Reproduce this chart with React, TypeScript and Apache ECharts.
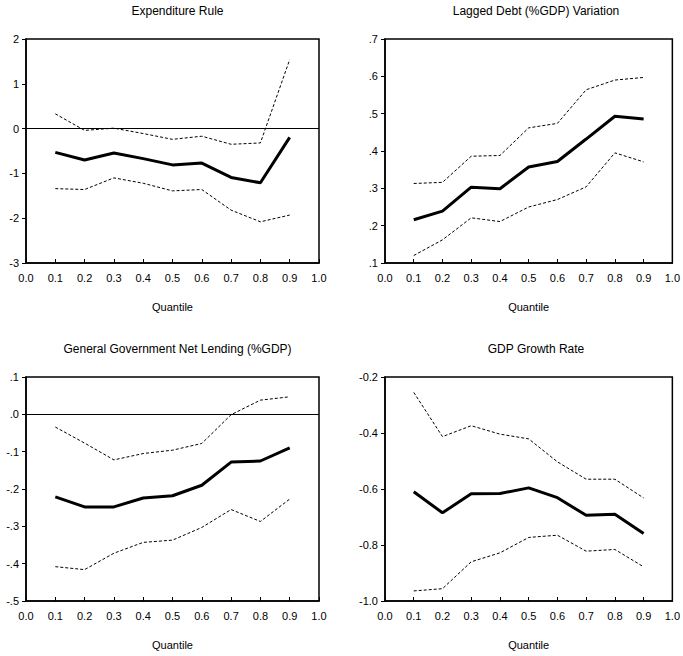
import React, { useEffect, useRef } from "react";
import * as echarts from "echarts";

const quantiles = [0.1, 0.2, 0.3, 0.4, 0.5, 0.6, 0.7, 0.8, 0.9];

const titles = [
  "Expenditure Rule",
  "Lagged Debt (%GDP) Variation",
  "General Government Net Lending (%GDP)",
  "GDP Growth Rate",
];

// Expenditure Rule
const expEst = [-0.53, -0.7, -0.545, -0.67, -0.81, -0.77, -1.09, -1.21, -0.195];
const expUp = [0.33, -0.04, 0.01, -0.11, -0.24, -0.17, -0.35, -0.32, 1.54];
const expLo = [-1.34, -1.36, -1.1, -1.22, -1.39, -1.36, -1.82, -2.08, -1.93];

// Lagged Debt (%GDP) Variation
const debtEst = [0.216, 0.239, 0.303, 0.299, 0.357, 0.372, 0.432, 0.493, 0.486];
const debtUp = [0.313, 0.316, 0.386, 0.388, 0.462, 0.474, 0.564, 0.59, 0.597];
const debtLo = [0.12, 0.162, 0.221, 0.211, 0.25, 0.27, 0.304, 0.395, 0.371];

// General Government Net Lending (%GDP)
const lendEst = [-0.221, -0.248, -0.248, -0.224, -0.218, -0.19, -0.128, -0.125, -0.09];
const lendUp = [-0.034, -0.077, -0.122, -0.105, -0.096, -0.078, -0.001, 0.038, 0.047];
const lendLo = [-0.408, -0.416, -0.372, -0.343, -0.337, -0.303, -0.255, -0.287, -0.227];

// GDP Growth Rate
const gdpEst = [-0.61, -0.685, -0.617, -0.616, -0.596, -0.631, -0.694, -0.69, -0.759];
const gdpUp = [-0.255, -0.413, -0.374, -0.404, -0.421, -0.503, -0.565, -0.565, -0.632];
const gdpLo = [-0.964, -0.956, -0.86, -0.828, -0.773, -0.765, -0.822, -0.816, -0.878];

const yMins = [-3, 0.1, -0.5, -1.0];
const yMaxs = [2, 0.7, 0.1, -0.2];
const yIntervals = [1, 0.1, 0.1, 0.2];
const zeroLines = [true, false, true, false];

const FONT = "'Liberation Sans Narrow', 'Arial Narrow', 'Liberation Sans', Arial, sans-serif";

const fmtInt = (v: number) => String(Math.round(v));
const fmtDot = (v: number) => {
  const s = v.toFixed(1);
  return s.replace(/^(-?)0\./, "$1.");
};
const fmtOne = (v: number) => v.toFixed(1);
const yFormatters = [fmtInt, fmtDot, fmtDot, fmtOne];

const grids = [
  { left: 26, top: 39, width: 293, height: 224 },
  { left: 385, top: 39, width: 292, height: 224 },
  { left: 26, top: 377, width: 293, height: 224 },
  { left: 385, top: 377, width: 292, height: 224 },
];

const panelData = [
  [expEst, expUp, expLo],
  [debtEst, debtUp, debtLo],
  [lendEst, lendUp, lendLo],
  [gdpEst, gdpUp, gdpLo],
];

export default function App() {
  const ref = useRef<HTMLDivElement>(null);
  useEffect(() => {
    document.body.style.margin = "0";
    if (!ref.current) return;
    const chart = echarts.init(ref.current, null, { renderer: "svg" });
    const pair = (arr: number[]) => quantiles.map((q, i) => [q, arr[i]]);
    const series: any[] = [];
    panelData.forEach((d, p) => {
      const [est, up, lo] = d;
      series.push({
        type: "line",
        xAxisIndex: p,
        yAxisIndex: p,
        data: pair(est),
        symbol: "none",
        lineStyle: { color: "#000", width: 3 },
        z: 5,
        markLine: zeroLines[p]
          ? {
              silent: true,
              symbol: "none",
              label: { show: false },
              lineStyle: { color: "#000", width: 1, type: "solid" },
              data: [{ yAxis: 0 }],
            }
          : undefined,
      });
      [up, lo].forEach((b) =>
        series.push({
          type: "line",
          xAxisIndex: p,
          yAxisIndex: p,
          data: pair(b),
          symbol: "none",
          lineStyle: { color: "#000", width: 1, type: [3, 2] },
          z: 4,
        })
      );
    });
    chart.setOption({
      animation: false,
      backgroundColor: "#fff",
      textStyle: { fontFamily: FONT },
      title: titles.map((t, i) => ({
        text: t,
        left: grids[i].left + grids[i].width / 2,
        top: grids[i].top - 39,
        textAlign: "center",
        textStyle: { fontFamily: FONT, fontSize: 12, fontWeight: "normal", color: "#000" },
      })),
      grid: grids.map((g) => ({
        ...g,
        show: true,
        borderColor: "#000",
        borderWidth: 1.5,
        backgroundColor: "transparent",
      })),
      xAxis: grids.map((_, i) => ({
        type: "value",
        gridIndex: i,
        min: 0,
        max: 1,
        interval: 0.1,
        name: "Quantile",
        nameLocation: "middle",
        nameGap: 38,
        nameTextStyle: { fontFamily: FONT, fontSize: 11, color: "#000" },
        axisLine: { show: true, onZero: false, lineStyle: { color: "#000", width: 1.5 } },
        axisTick: { show: true, inside: true, length: 4, lineStyle: { color: "#000" } },
        axisLabel: {
          margin: 9,
          fontFamily: FONT,
          fontSize: 11,
          color: "#000",
          formatter: (v: number) => v.toFixed(1),
          showMinLabel: true,
          showMaxLabel: true,
        },
        splitLine: { show: false },
      })),
      yAxis: grids.map((_, i) => ({
        type: "value",
        gridIndex: i,
        min: yMins[i],
        max: yMaxs[i],
        interval: yIntervals[i],
        axisLine: { show: true, onZero: false, lineStyle: { color: "#000", width: 1.5 } },
        axisTick: { show: true, inside: false, length: 4, lineStyle: { color: "#000" } },
        axisLabel: {
          margin: 7,
          fontFamily: FONT,
          fontSize: 11,
          color: "#000",
          formatter: yFormatters[i],
          showMinLabel: true,
          showMaxLabel: true,
        },
        splitLine: { show: false },
      })),
      series,
    });
    return () => chart.dispose();
  }, []);
  return <div ref={ref} style={{ width: 683, height: 656 }} />;
}
